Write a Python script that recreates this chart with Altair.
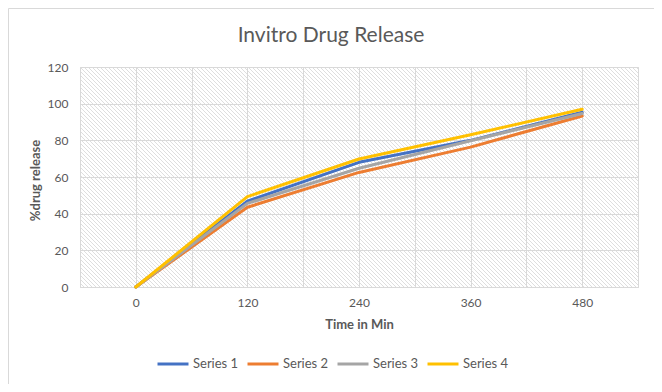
import altair as alt
import numpy as np
import pandas as pd

# ---- data ----
times = [0, 120, 240, 360, 480]
series_names = ["Series 1", "Series 2", "Series 3", "Series 4"]
series1 = [0, 46.8, 68.0, 80.0, 95.3]
series2 = [0, 43.5, 62.5, 76.3, 93.3]
series3 = [0, 45.6, 64.8, 79.8, 94.6]
series4 = [0, 49.3, 69.8, 83.0, 97.0]
y_ticks = [0, 20, 40, 60, 80, 100, 120]
x_grid = [-60, 0, 60, 120, 180, 240, 300, 360, 420, 480, 540]
colors = ["#4472C4", "#ED7D31", "#A5A5A5", "#FFC000"]

rows = []
for name, vals in zip(series_names, [series1, series2, series3, series4]):
    for t, v in zip(times, vals):
        rows.append({"time": t, "value": v, "series": name})
df = pd.DataFrame(rows)

FONT = "Lato"
TXT = "#595959"
GRID = "#d9d9d9"
W, H = 558, 220
XMIN, XMAX, YMAX = -60, 540, 120

# ---- decorative diagonal hatch of the plot area (45 degree lines, 4px apart) ----
run = H * (XMAX - XMIN) / W          # x-extent of one full-height diagonal
step = 4 * (XMAX - XMIN) / W         # 4 px spacing
starts = np.arange(XMIN - run, XMAX + step, step)
hatch_df = pd.DataFrame({"hx": starts, "hx2": starts + run,
                         "hy": YMAX, "hy2": 0})

xscale = alt.Scale(domain=[XMIN, XMAX], nice=False, zero=False)
yscale = alt.Scale(domain=[0, YMAX], nice=False)

x_axis = alt.Axis(values=x_grid, grid=True, gridColor=GRID, ticks=False, tickSize=0,
                  domain=True, domainColor=GRID,
                  labelExpr="indexof([0,120,240,360,480], datum.value) >= 0 ? datum.label : ''",
                  labelFlush=False, labelOverlap=False, labelPadding=10,
                  labelFont=FONT, labelFontSize=12, labelColor=TXT,
                  title="Time in Min", titleFont=FONT, titleFontSize=13,
                  titleFontWeight="bold", titleColor=TXT, titleY=37,
                  titleBaseline="middle")
y_axis = alt.Axis(values=y_ticks, grid=True, gridColor=GRID, ticks=False, tickSize=0,
                  domain=False, labelPadding=12,
                  labelFont=FONT, labelFontSize=12, labelColor=TXT,
                  title="%drug release", titleFont=FONT, titleFontSize=13,
                  titleFontWeight="bold", titleColor=TXT, titleAngle=-90,
                  titleX=-45, titleY=113, titleAlign="center",
                  titleBaseline="middle")

hatch = alt.Chart(hatch_df).mark_rule(clip=True, color="#dadada", strokeWidth=0.9).encode(
    x=alt.X("hx:Q", scale=xscale, axis=x_axis), x2="hx2:Q",
    y=alt.Y("hy:Q", scale=yscale, axis=y_axis), y2="hy2:Q",
)

lines = alt.Chart(df).mark_line(strokeWidth=3, strokeCap="round", strokeJoin="round").encode(
    x=alt.X("time:Q", scale=xscale, axis=x_axis),
    y=alt.Y("value:Q", scale=yscale, axis=y_axis),
    color=alt.Color("series:N",
                    scale=alt.Scale(domain=series_names, range=colors),
                    legend=alt.Legend(orient="none", legendX=76, legendY=280,
                                      direction="horizontal", columns=4, columnPadding=2,
                                      symbolType="stroke", symbolSize=961,
                                      symbolStrokeWidth=3, labelOffset=3,
                                      labelFont=FONT, labelFontSize=13, labelColor=TXT,
                                      title=None, padding=0)),
    order="time:Q",
)

one = pd.DataFrame({"k": [0]})
frame = alt.Chart(one).mark_rect(fill=None, stroke=GRID, strokeWidth=1).encode(
    x=alt.value(-71.5), x2=alt.value(575.5), y=alt.value(-58.5), y2=alt.value(319.5)
)
edge_left = alt.Chart(one).mark_rule(color="black", strokeWidth=2).encode(
    x=alt.value(-73), y=alt.value(-61), y2=alt.value(320)
)
edge_top = alt.Chart(one).mark_rule(color="black", strokeWidth=2).encode(
    x=alt.value(-74), x2=alt.value(577), y=alt.value(-60)
)

chart = alt.layer(hatch, lines, frame, edge_left, edge_top).properties(
    width=W, height=H,
    title=alt.TitleParams("Invitro Drug Release", font=FONT, fontSize=21,
                          fontWeight="normal", color=TXT, anchor="middle",
                          frame="group", dx=-28, offset=-58, baseline="alphabetic"),
    autosize=alt.AutoSizeParams(type="none"),
    padding={"left": 72, "top": 59, "right": 16, "bottom": 97},
).configure_view(stroke=None, fill="white").configure(background="white")

chart.save("out.html", embed_options={"renderer": "svg", "actions": False})
